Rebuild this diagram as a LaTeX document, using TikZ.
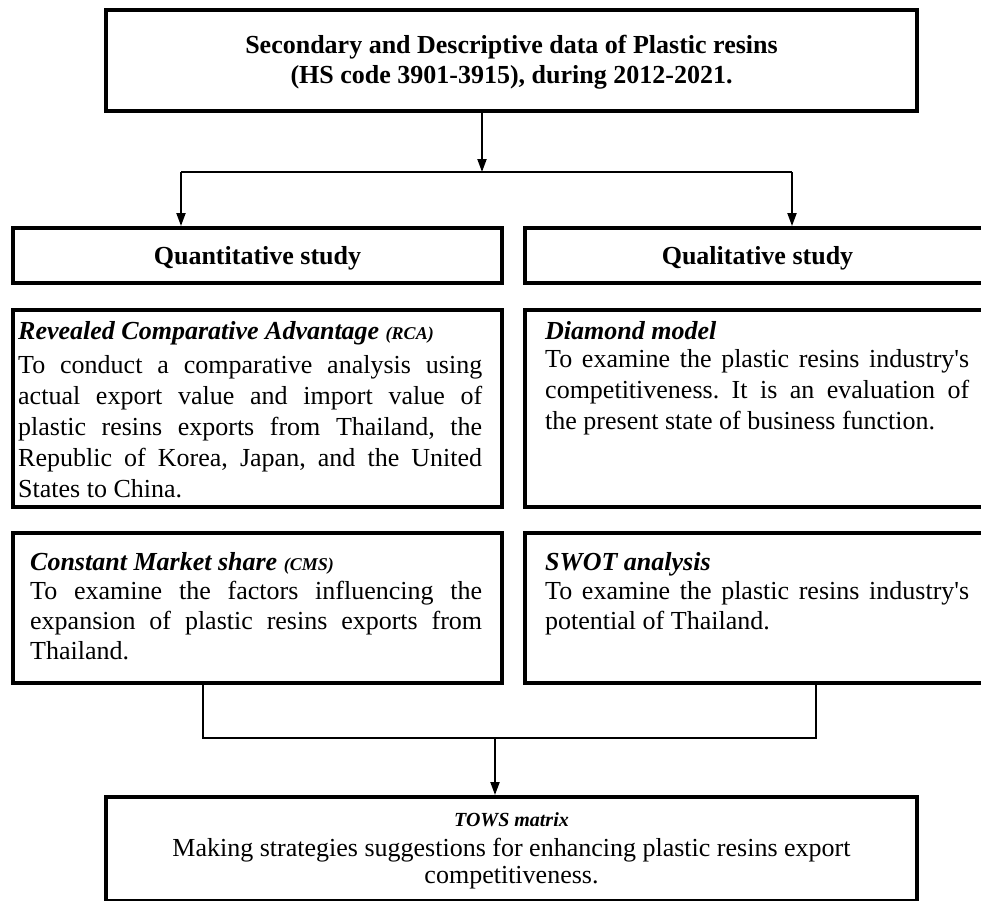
\documentclass[tikz,border=0pt]{standalone}
\usepackage{fontspec}
\setmainfont{Liberation Serif}
\usetikzlibrary{arrows.meta}
\hbadness=10000
\hfuzz=2pt
\frenchspacing

% one justified line of fixed width
\newcommand{\jline}[2]{\makebox[#1][s]{#2}}
\newcommand{\bodysize}{\fontsize{26}{31}\selectfont}
\newcommand{\apos}{\textquotesingle}

\begin{document}
\begin{tikzpicture}[x=1pt,y=-1pt,
  box/.style={draw, line width=4pt, inner sep=0pt, rectangle},
  link/.style={line width=2pt},
  flow/.style={line width=2pt, -{Triangle[length=13pt,width=9pt]}},
  txt/.style={inner sep=0pt, anchor=base west},
  ctxt/.style={inner sep=0pt, anchor=base},
  ttl/.style={txt, font=\fontsize{26}{31}\selectfont\bfseries\itshape},
]
\useasboundingbox (0,0) rectangle (981,900);
\clip (0,0) rectangle (981,900);

% ---- frames ----
\node[box, minimum width=811pt, minimum height=101pt] (data) at (511.5,60.5) {};
\node[box, minimum width=489pt, minimum height=55pt] (quant) at (257.5,255.5) {};
\node[box, minimum width=465pt, minimum height=55pt] (qual) at (757.5,255.5) {};
\node[box, minimum width=489pt, minimum height=197pt] (rca) at (257.5,408.5) {};
\node[box, minimum width=465pt, minimum height=197pt] (diam) at (757.5,408.5) {};
\node[box, minimum width=489pt, minimum height=150pt] (cms) at (257.5,608) {};
\node[box, minimum width=465pt, minimum height=150pt] (swot) at (757.5,608) {};
\node[box, minimum width=811pt, minimum height=103.5pt] (tows) at (511.5,848.75) {};

% ---- data source ----
\node[ctxt] (dataT) at (511.5,53) {\parbox[t]{800pt}{\centering\fontsize{26}{30}\selectfont\bfseries
  Secondary and Descriptive data of Plastic resins\\
  (HS code 3901-3915), during 2012-2021.}};

% ---- study headings ----
\node[ctxt, font=\fontsize{26}{31}\selectfont\bfseries] (quantT) at (257.5,264) {Quantitative study};
\node[ctxt, font=\fontsize{26}{31}\selectfont\bfseries] (qualT) at (757.5,264) {Qualitative study};

% ---- RCA ----
\node[ttl] (rcaT) at (18,339) {Revealed Comparative Advantage {\fontsize{18}{31}\selectfont (RCA)}};
\node[txt] (rcaB) at (18,373) {\parbox[t]{464pt}{\bodysize
  \jline{464pt}{To conduct a comparative analysis using}\\
  \jline{464pt}{actual export value and import value of}\\
  \jline{464pt}{plastic resins exports from Thailand, the}\\
  \jline{464pt}{Republic of Korea, Japan, and the United}\\
  States to China.}};

% ---- Diamond model ----
\node[ttl] (diamT) at (545,339) {Diamond model};
\node[txt] (diamB) at (545,367) {\parbox[t]{424pt}{\bodysize
  \jline{424pt}{To examine the plastic resins industry\apos s}\\
  \jline{424pt}{competitiveness. It is an evaluation of}\\
  the present state of business function.}};

% ---- CMS ----
\node[ttl] (cmsT) at (30,570) {Constant Market share {\fontsize{18}{31}\selectfont (CMS)}};
\node[txt] (cmsB) at (30,599) {\parbox[t]{452pt}{\fontsize{26}{30}\selectfont
  \jline{452pt}{To examine the factors influencing the}\\
  \jline{452pt}{expansion of plastic resins exports from}\\
  Thailand.}};

% ---- SWOT ----
\node[ttl] (swotT) at (545,570) {SWOT analysis};
\node[txt] (swotB) at (545,599) {\parbox[t]{424pt}{\fontsize{26}{30}\selectfont
  \jline{424pt}{To examine the plastic resins industry\apos s}\\
  potential of Thailand.}};

% ---- TOWS ----
\node[ctxt, font=\fontsize{20}{24}\selectfont\bfseries\itshape] (towsT) at (511.5,826) {TOWS matrix};
\node[ctxt] (towsB) at (511.5,856) {\parbox[t]{800pt}{\centering\fontsize{26}{27.5}\selectfont
  Making strategies suggestions for enhancing plastic resins export\\
  competitiveness.}};

% ---- connectors ----
\coordinate (split) at (482,172);
\coordinate (splitL) at (181,172);
\coordinate (splitR) at (792,172);
\draw[flow] (data.south -| split) -- (split);
\draw[link] (splitL) -- (splitR);
\draw[flow] (splitL) -- (splitL |- quant.north);
\draw[flow] (splitR) -- (splitR |- qual.north);

\coordinate (joinL) at (203,738);
\coordinate (joinR) at (816,738);
\coordinate (join) at (495,738);
\draw[link] (cms.south -| joinL) -- (joinL) -- (joinR) -- (swot.south -| joinR);
\draw[flow] (join) -- (join |- tows.north);
\end{tikzpicture}
\end{document}
